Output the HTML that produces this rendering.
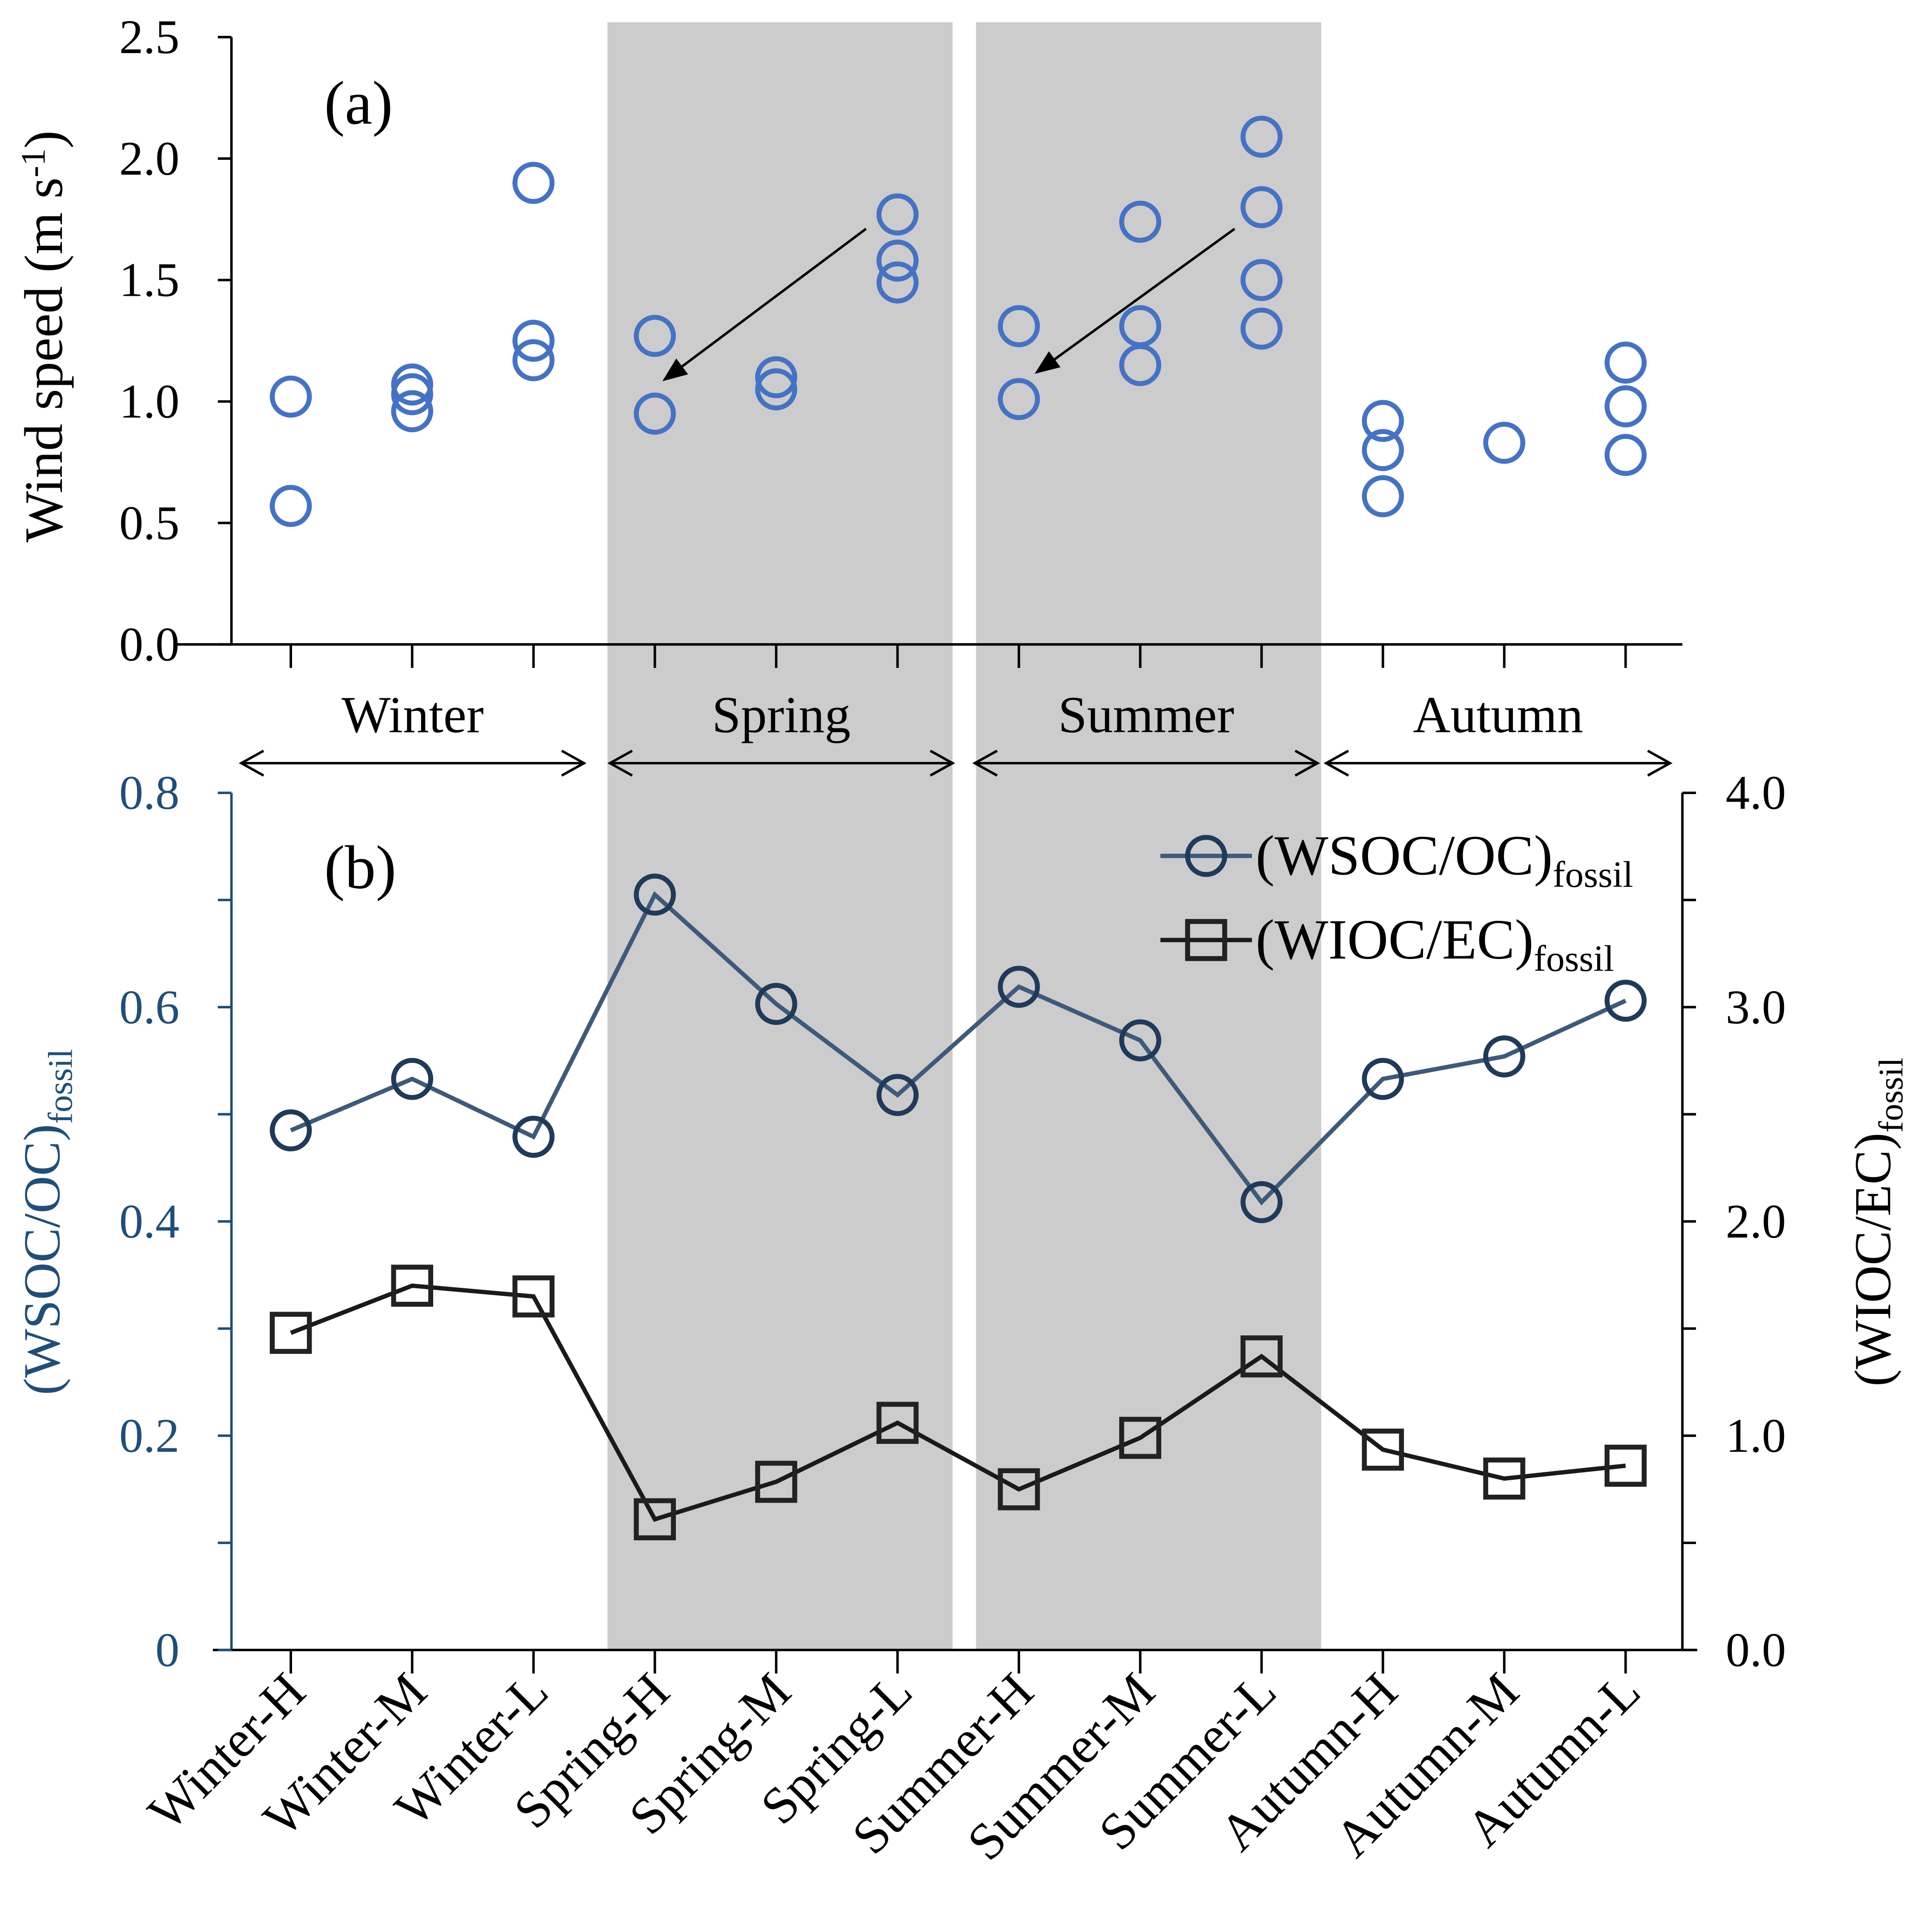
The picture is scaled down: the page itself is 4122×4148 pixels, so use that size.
<!DOCTYPE html>
<html><head><meta charset="utf-8"><style>
html,body{margin:0;padding:0;background:#fff}
svg{display:block}
text{font-family:"Liberation Serif",serif}
</style></head><body>
<svg id="chart" width="4122" height="4148" viewBox="0 0 1552 1562" xmlns="http://www.w3.org/2000/svg">
<g id="bands"></g>
<g id="axes"></g>
<g id="marks"></g>
</svg>
<script>
const categories=["Winter-H","Winter-M","Winter-L","Spring-H","Spring-M","Spring-L","Summer-H","Summer-M","Summer-L","Autumn-H","Autumn-M","Autumn-L"];
const windSpeed=[[1.02,0.57],[1.07,1.03,0.96],[1.90,1.25,1.17],[1.27,0.95],[1.10,1.05],[1.77,1.58,1.49],[1.31,1.01],[1.74,1.31,1.15],[2.09,1.80,1.50,1.30],[0.92,0.80,0.61],[0.83],[1.16,0.98,0.78]];
const wsocOc=[0.485,0.533,0.479,0.705,0.603,0.518,0.619,0.569,0.418,0.533,0.554,0.606];
const wiocEc=[1.48,1.70,1.65,0.61,0.785,1.06,0.75,0.99,1.37,0.935,0.80,0.86];
const windTicks=["0.0","0.5","1.0","1.5","2.0","2.5"];
const leftTicks=["0","0.2","0.4","0.6","0.8"];
const rightTicks=["0.0","1.0","2.0","3.0","4.0"];
const seasons=["Winter","Spring","Summer","Autumn"];

const NS="http://www.w3.org/2000/svg";
function el(tag,attrs,parent,txt){const e=document.createElementNS(NS,tag);for(const k in attrs)e.setAttribute(k,attrs[k]);if(txt!==undefined)e.textContent=txt;parent.appendChild(e);return e;}
const X=i=>235+i*98.1;
const Ya=v=>521-v*196.4;
const Yl=v=>1334-v*866.25;
const Yr=v=>1334-v*173.25;
const bands=document.getElementById('bands'),axes=document.getElementById('axes'),marks=document.getElementById('marks');

let b1=el('rect',{x:491,y:18,width:279,height:1316,fill:'#cccccc'},bands);


let b2=el('rect',{x:789,y:18,width:279,height:1316,fill:'#cccccc'},bands);



const ax='#000',blue='#1f4e79';
el('line',{x1:187,y1:30,x2:187,y2:521,stroke:ax,'stroke-width':2},axes);
el('line',{x1:140,y1:521,x2:1360,y2:521,stroke:ax,'stroke-width':2},axes);
windTicks.forEach((t,i)=>{const v=parseFloat(t),y=Ya(v);
 el('line',{x1:176,y1:y,x2:187,y2:y,stroke:ax,'stroke-width':2},axes);
 let tx=el('text',{x:145,y:y+13,'font-size':39,'text-anchor':'end'},axes,t);
 
 
});
categories.forEach((c,i)=>{el('line',{x1:X(i),y1:521,x2:X(i),y2:540,stroke:ax,'stroke-width':2},axes);});
let ya=el('text',{transform:'translate(50,272) rotate(-90)','font-size':44,'text-anchor':'middle'},axes);


ya.innerHTML='Wind speed (m s<tspan dy="-14" font-size="28">-1</tspan><tspan dy="14">)</tspan>';
let la=el('text',{x:262,y:100,'font-size':50},axes,'(a)');



const sx=[[195,472],[493,770],[788,1065],[1072,1350]];
seasons.forEach((s,i)=>{const [a,b]=sx[i];
 let t=el('text',{x:(a+b)/2,y:592,'font-size':42,'text-anchor':'middle'},axes,s);
 
 
 el('line',{x1:a,y1:617,x2:b,y2:617,stroke:ax,'stroke-width':2},axes);
 el('polyline',{points:`${a+18},607 ${a},617 ${a+18},627`,fill:'none',stroke:ax,'stroke-width':2},axes);
 el('polyline',{points:`${b-18},607 ${b},617 ${b-18},627`,fill:'none',stroke:ax,'stroke-width':2},axes);
});

el('line',{x1:187,y1:641,x2:187,y2:1334,stroke:blue,'stroke-width':2},axes);
el('line',{x1:1360,y1:641,x2:1360,y2:1334,stroke:ax,'stroke-width':2},axes);
el('line',{x1:172,y1:1334,x2:1372,y2:1334,stroke:ax,'stroke-width':2},axes);
for(let k=0;k<=8;k++){const y=Yl(k*0.1);el('line',{x1:176,y1:y,x2:187,y2:y,stroke:blue,'stroke-width':2},axes);}
leftTicks.forEach(t=>{const y=Yl(parseFloat(t));
 let tx=el('text',{x:145,y:y+13,'font-size':39,'text-anchor':'end',fill:blue},axes,t);
 
 
});
for(let k=0;k<=8;k++){const y=Yr(k*0.5);el('line',{x1:1360,y1:y,x2:1371,y2:y,stroke:ax,'stroke-width':2},axes);}
rightTicks.forEach(t=>{const y=Yr(parseFloat(t));
 let tx=el('text',{x:1395,y:y+13,'font-size':39},axes,t);
 
 
});
categories.forEach((c,i)=>{el('line',{x1:X(i),y1:1334,x2:X(i),y2:1353,stroke:ax,'stroke-width':2},axes);
 let t=el('text',{transform:`translate(${X(i)+14},1370) rotate(-45)`,'font-size':42,'text-anchor':'end'},axes,c);
 
 
});
let yl=el('text',{transform:'translate(48,988) rotate(-90)','font-size':42,'text-anchor':'middle',fill:blue},axes);


yl.innerHTML='(WSOC/OC)<tspan dy="10" font-size="28">fossil</tspan>';
let yr=el('text',{transform:'translate(1528,988) rotate(-90)','font-size':42,'text-anchor':'middle'},axes);


yr.innerHTML='(WIOC/EC)<tspan dy="10" font-size="28">fossil</tspan>';
let lb=el('text',{x:262,y:718,'font-size':50},axes,'(b)');



el('defs',{},marks).innerHTML='<marker id="ah" markerWidth="10" markerHeight="8" refX="9" refY="4" orient="auto"><path d="M0,0 L10,4 L0,8 z" fill="#000"/></marker>';
el('line',{x1:700,y1:185,x2:537,y2:307,stroke:'#000','stroke-width':2,'marker-end':'url(#ah)'},marks);
el('line',{x1:998,y1:185,x2:838,y2:301,stroke:'#000','stroke-width':2,'marker-end':'url(#ah)'},marks);

windSpeed.forEach((arr,i)=>arr.forEach(v=>{
 let c=el('circle',{cx:X(i),cy:Ya(v),r:15,fill:'none',stroke:'#4472c4','stroke-width':4},marks);
 
 
}));

const wc='#3d5a7a';
let p1=el('polyline',{points:wsocOc.map((v,i)=>X(i)+','+Yl(v)).join(' '),fill:'none',stroke:wc,'stroke-width':3.5},marks);


wsocOc.forEach((v,i)=>{let c=el('circle',{cx:X(i),cy:Yl(v),r:15,fill:'none',stroke:'#1f3a5a','stroke-width':4},marks);
 
 });
let p2=el('polyline',{points:wiocEc.map((v,i)=>X(i)+','+Yr(v)).join(' '),fill:'none',stroke:'#1a1a1a','stroke-width':3.5},marks);


wiocEc.forEach((v,i)=>{let r=el('rect',{x:X(i)-15,y:Yr(v)-15,width:30,height:30,fill:'none',stroke:'#222','stroke-width':4},marks);
 
 });

el('line',{x1:938,y1:692,x2:1012,y2:692,stroke:wc,'stroke-width':3.5},marks);
el('circle',{cx:975,cy:692,r:15,fill:'none',stroke:'#1f3a5a','stroke-width':4},marks);
let l1=el('text',{x:1015,y:707,'font-size':46},marks);


l1.innerHTML='(WSOC/OC)<tspan dy="10" font-size="30">fossil</tspan>';
el('line',{x1:938,y1:760,x2:1012,y2:760,stroke:'#1a1a1a','stroke-width':3.5},marks);
el('rect',{x:960,y:745,width:30,height:30,fill:'none',stroke:'#222','stroke-width':4},marks);
let l2=el('text',{x:1015,y:775,'font-size':46},marks);


l2.innerHTML='(WIOC/EC)<tspan dy="10" font-size="30">fossil</tspan>';
</script>
</body></html>
